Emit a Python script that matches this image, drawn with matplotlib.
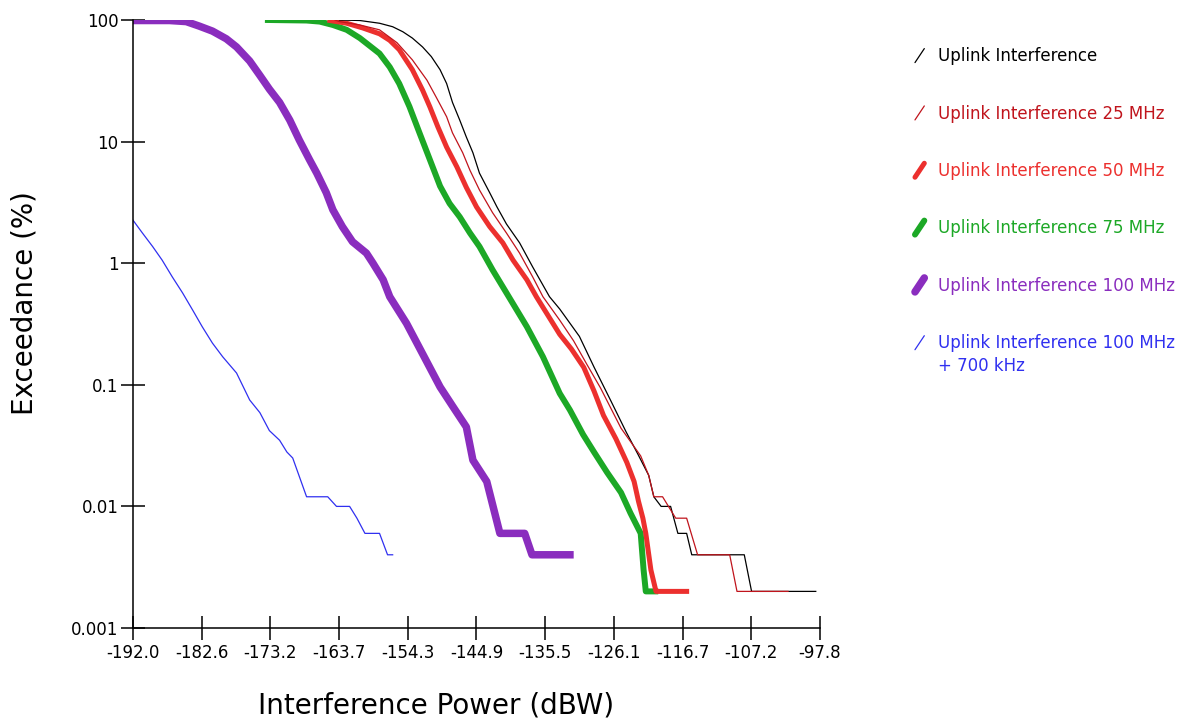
import matplotlib
matplotlib.use("Agg")
import matplotlib.pyplot as plt
from matplotlib.lines import Line2D
from matplotlib.legend_handler import HandlerBase
import numpy as np

# Axis range (dBW) and decade ticks as printed on the chart
X_MIN = -192.0
X_MAX = -97.82
N_XTICKS = 11
Y_TICKS = [0.001, 0.01, 0.1, 1, 10, 100]

# Exceedance curves (x in dBW, y in %)
ul_x = [-163.7, -160.9, -158.2, -156.4, -155.0, -153.7, -152.3, -151.1, -149.9, -149.0,
        -148.2, -147.2, -146.3, -145.4, -144.5, -143.1, -142.1, -140.8, -139.0, -137.2,
        -134.9, -133.5, -130.8, -128.8, -126.5, -124.4, -122.8, -121.3, -120.6, -119.6,
        -118.3, -117.3, -116.1, -115.4, -108.2, -107.2, -98.4]
ul_y = [100, 99, 94, 88, 80, 71, 60, 50, 39, 30,
        21, 15, 10.9, 8.1, 5.5, 3.8, 2.9, 2.1, 1.47, 0.93,
        0.53, 0.42, 0.25, 0.14, 0.074, 0.041, 0.027, 0.018, 0.012, 0.010,
        0.010, 0.006, 0.006, 0.004, 0.004, 0.002, 0.002]

ul25_x = [-164.3, -163.7, -160.9, -158.2, -155.8, -153.7, -151.7, -150.4, -149.0, -148.2,
          -146.8, -145.8, -144.5, -142.7, -140.8, -139.0, -137.2, -135.8, -133.5, -131.6,
          -129.8, -127.9, -125.1, -122.4, -121.3, -120.6, -119.4, -117.6, -116.1, -114.6,
          -110.2, -109.2, -102.2]
ul25_y = [100, 97, 91, 83, 65, 47, 32, 23, 16, 11.8,
          8.1, 5.8, 4.0, 2.6, 1.77, 1.21, 0.77, 0.53, 0.34, 0.23,
          0.148, 0.094, 0.044, 0.026, 0.018, 0.012, 0.012, 0.008, 0.008, 0.004,
          0.004, 0.002, 0.002]

ul50_x = [-165.0, -162.7, -160.5, -158.2, -156.8, -155.5, -153.7, -152.3, -151.3, -150.2,
          -149.0, -147.6, -146.3, -144.9, -143.1, -141.3, -139.9, -138.0, -136.7, -133.5,
          -131.9, -130.2, -128.8, -127.5, -125.8, -124.3, -123.3, -122.7, -122.1, -121.7,
          -121.0, -120.3, -116.1]
ul50_y = [99, 94, 86, 77, 68, 57, 39, 26.5, 19.3, 13.2,
          9.0, 6.2, 4.2, 2.9, 2.0, 1.47, 1.06, 0.73, 0.53, 0.26,
          0.197, 0.139, 0.089, 0.056, 0.036, 0.023, 0.016, 0.011, 0.008, 0.006,
          0.003, 0.002, 0.002]

ul75_x = [-173.5, -168.2, -166.4, -164.6, -162.7, -160.9, -158.2, -156.8, -155.5,
          -154.1, -152.7, -151.3, -149.9, -148.6, -147.2, -145.8, -144.5, -142.7, -140.8,
          -138.0, -135.8, -133.5, -132.1, -130.3, -128.8, -127.0, -125.1, -123.8, -122.4,
          -122.0, -121.7, -120.4]
ul75_y = [100, 99, 97, 91, 83, 71, 53, 41, 30,
          19.4, 11.7, 7.1, 4.3, 3.1, 2.4, 1.77, 1.37, 0.88, 0.57,
          0.30, 0.17, 0.085, 0.062, 0.039, 0.028, 0.019, 0.013, 0.0088, 0.006,
          0.003, 0.002, 0.002]

ul100_x = [-192.0, -187.0, -184.7, -182.9, -181.1, -179.2, -177.8, -176.0, -174.6, -173.3,
           -171.9, -170.5, -169.2, -167.8, -166.8, -165.5, -164.6, -163.3, -161.9, -160.0,
           -159.1, -157.7, -156.8, -154.5, -152.3, -149.9, -148.2, -146.3, -145.4, -143.5,
           -141.7, -138.3, -137.3, -132.1]
ul100_y = [99, 99, 97, 89, 81, 70, 60, 46, 35, 27,
           21, 15, 10.3, 7.1, 5.5, 3.8, 2.75, 2.0, 1.5, 1.21,
           1.0, 0.73, 0.53, 0.32, 0.18, 0.096, 0.067, 0.045, 0.024, 0.016,
           0.006, 0.006, 0.004, 0.004]

ul700_x = [-192.0, -190.7, -189.3, -188.0, -186.6, -185.2, -183.8, -182.5, -181.1, -179.7,
           -177.8, -176.0, -174.6, -173.3, -171.9, -170.9, -170.1, -168.2, -165.3, -164.1,
           -162.3, -161.3, -160.2, -158.2, -157.1, -156.4]
ul700_y = [2.26, 1.77, 1.37, 1.06, 0.77, 0.57, 0.41, 0.30, 0.22, 0.17,
           0.125, 0.075, 0.059, 0.042, 0.035, 0.028, 0.025, 0.012, 0.012, 0.010,
           0.010, 0.008, 0.006, 0.006, 0.004, 0.004]

LABELS = [
    "Uplink Interference",
    "Uplink Interference 25 MHz",
    "Uplink Interference 50 MHz",
    "Uplink Interference 75 MHz",
    "Uplink Interference 100 MHz",
    "Uplink Interference 100 MHz\n+ 700 kHz",
]
COLORS = ["#000000", "#C0141C", "#EC302E", "#1CA826", "#8A2DBE", "#3030F0"]
WIDTHS = [0.9, 0.9, 3.6, 4.3, 5.4, 0.9]
ZORDERS = [5, 6, 4, 3, 2, 2]


class SlashHandler(HandlerBase):
    """Legend handle drawn as a short diagonal stroke."""

    def create_artists(self, legend, orig_handle, xdescent, ydescent,
                       width, height, fontsize, trans):
        # a two-line label keeps its stroke next to the first line
        dy = 0.78 * fontsize if "\n" in orig_handle.get_label() else 0.0
        x0 = -xdescent + 0.15 * width
        x1 = -xdescent + 0.85 * width
        y0 = -ydescent - 0.1 * height + dy
        y1 = -ydescent + 1.1 * height + dy
        line = Line2D([x0, x1], [y0, y1], color=orig_handle.get_color(),
                      lw=orig_handle.get_linewidth(), solid_capstyle="round",
                      transform=trans)
        return [line]


plt.rcParams.update({
    "font.family": "DejaVu Sans",
    "font.size": 12,
})

fig = plt.figure(figsize=(11.86, 7.24), dpi=100)
ax = fig.add_axes([0.1121, 0.1326, 0.5793, 0.8398])

series = [(ul_x, ul_y), (ul25_x, ul25_y), (ul50_x, ul50_y),
          (ul75_x, ul75_y), (ul100_x, ul100_y), (ul700_x, ul700_y)]
handles = []
for (xs, ys), label, color, lw, z in zip(series, LABELS, COLORS, WIDTHS, ZORDERS):
    h, = ax.plot(xs, ys, color=color, lw=lw, label=label, zorder=z,
                 solid_joinstyle="round")
    handles.append(h)

ax.set_yscale("log")
ax.set_xlim(X_MIN, X_MAX)
ax.set_ylim(Y_TICKS[0], Y_TICKS[-1])

xticks = np.linspace(X_MIN, X_MAX, N_XTICKS)
ax.set_xticks(xticks)
ax.set_xticklabels([f"{v:.1f}" for v in xticks])
ax.set_yticks(Y_TICKS)
ax.set_yticklabels([f"{v:g}" for v in Y_TICKS])
ax.minorticks_off()

ax.tick_params(axis="both", direction="inout", length=17, width=1.1,
               labelsize=12, colors="black")
ax.tick_params(axis="y", pad=2)
ax.tick_params(axis="x", pad=3)

for side in ["top", "right"]:
    ax.spines[side].set_visible(False)
for side in ["left", "bottom"]:
    ax.spines[side].set_linewidth(1.1)
    ax.spines[side].set_color("black")

ax.set_xlabel("Interference Power (dBW)", fontsize=20)
ax.set_ylabel("Exceedance (%)", fontsize=20)
ax.xaxis.set_label_coords(0.4418, -0.104)
ax.yaxis.set_label_coords(-0.1376, 0.535)

leg = ax.legend(handles=handles, labels=LABELS,
                handler_map={Line2D: SlashHandler()},
                loc="upper left", bbox_to_anchor=(0.7698, 0.9345),
                bbox_transform=fig.transFigure, frameon=False,
                borderpad=0, borderaxespad=0, handlelength=0.8,
                handleheight=0.7, handletextpad=0.7, labelspacing=2.36,
                fontsize=12, labelcolor="linecolor")
leg.get_texts()[-1].set_linespacing(1.35)

fig.savefig("out.png", dpi=100)
